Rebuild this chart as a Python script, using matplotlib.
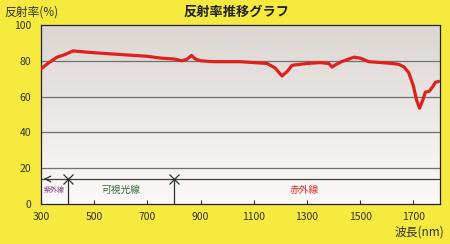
import matplotlib
matplotlib.use("Agg")
import matplotlib.pyplot as plt
import numpy as np

plt.rcParams['font.family'] = ['Noto Sans CJK JP', 'DejaVu Sans']

wavelength = [300, 330, 360, 390, 420, 460, 500, 550, 600, 650, 700, 750, 800, 830, 850,
              866, 880, 900, 950, 1000, 1050, 1100, 1150, 1180, 1206, 1225, 1244, 1300,
              1350, 1382, 1394, 1410, 1430, 1476, 1500, 1532, 1580, 1620, 1645, 1665,
              1682, 1700, 1712, 1723, 1735, 1745, 1760, 1770, 1783, 1795]
reflectance = [75.5, 79, 82, 83.5, 85.5, 85, 84.5, 84, 83.5, 83, 82.5, 81.5, 81, 80, 81,
               83, 81, 80, 79.5, 79.5, 79.5, 79, 78.5, 76, 71.5, 74, 77.5, 78.5,
               79, 78.5, 76.5, 78, 79.5, 82, 81.5, 79.5, 79, 78.5, 78, 76.5,
               73.5, 66, 58, 53.5, 58, 62.5, 63, 65, 68, 68.5]

x_ticks = [300, 500, 700, 900, 1100, 1300, 1500, 1700]
y_ticks = [0, 20, 40, 60, 80, 100]
grid_levels = [20, 40, 60, 80]
band_edges = [400, 800]
band_level = 14

fig = plt.figure(figsize=(4.5, 2.44), dpi=100)
fig.patch.set_facecolor('#f6ea3e')
ax = fig.add_axes([41/450, 1-204/244, 399/450, 179/244])
ax.set_xlim(300, 1800)
ax.set_ylim(0, 100)

# background gradient
grad = np.linspace(0, 1, 100).reshape(-1, 1)
top = np.array([220, 214, 210]) / 255
bot = np.array([252, 250, 248]) / 255
img = bot + (top - bot) * grad
ax.imshow(img.reshape(100, 1, 3), extent=[300, 1800, 0, 100],
          aspect='auto', origin='lower', zorder=0)

for g in grid_levels:
    ax.axhline(g, color='#707070', lw=0.9, zorder=1)
ax.axhline(band_level, color='#404040', lw=0.9, zorder=1)
for b in band_edges:
    ax.plot([b, b], [0, band_level], color='#303030', lw=0.9, zorder=2)
    ax.plot([b], [band_level], marker='x', ms=7, mew=0.9, color='#303030', zorder=3)
ax.annotate('', xy=(300, band_level), xytext=(330, band_level),
            arrowprops=dict(arrowstyle='->', color='#303030', lw=0.9), zorder=3)

ax.text(350, 8, '紫外線', color='#7a3a78', fontsize=5, ha='center', va='center')
ax.text(600, 8, '可視光線', color='#3c6a3c', fontsize=7, ha='center', va='center')
ax.text(1290, 8, '赤外線', color='#e02424', fontsize=7, ha='center', va='center')

ax.plot(wavelength, reflectance, color='#e0201c', lw=2.3, zorder=4,
        solid_joinstyle='round', solid_capstyle='round')

ax.set_xticks(x_ticks)
ax.set_yticks(y_ticks)
ax.tick_params(axis='x', direction='in', length=3, width=0.8, color='#303030',
               labelsize=7.5, pad=6, labelcolor='#333333')
ax.tick_params(axis='y', length=0, labelsize=7.5, pad=7, labelcolor='#333333')
for s in ax.spines.values():
    s.set_color('#222222')
    s.set_linewidth(0.9)

fig.text(236/450, 1-12/244, '反射率推移グラフ', fontsize=9.5, fontweight='bold',
         ha='center', va='center', color='#222222')
fig.text(4/450, 1-12/244, '反射率(%)', fontsize=8.5, ha='left', va='center', color='#333333')
fig.text(444/450, 1-232/244, '波長(nm)', fontsize=8.5, ha='right', va='center', color='#333333')

fig.savefig('out.png', dpi=100, facecolor=fig.get_facecolor())
